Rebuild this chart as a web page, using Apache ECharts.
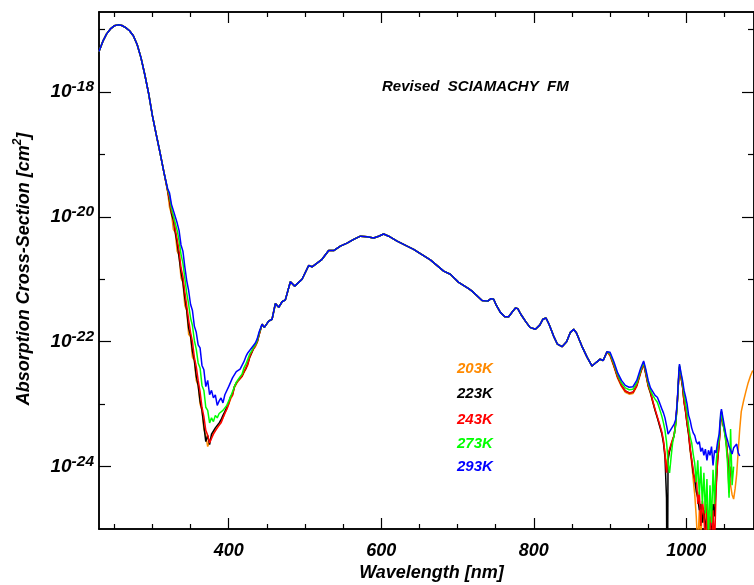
<!DOCTYPE html>
<html><head><meta charset="utf-8">
<script src="https://cdn.jsdelivr.net/npm/echarts@6/dist/echarts.min.js"></script>
<style>html,body{margin:0;padding:0;background:#fff}#c{width:754px;height:585px}</style>
</head><body><div id="c"></div>
<script>
// ---------- DATA (log10 of cross-section, cm^2) ----------
const seriesNames = ['203K', '223K', '243K', '273K', '293K'];
const titleText = 'Revised  SCIAMACHY  FM';

// Hartley band (all temperatures coincide)
const uvWl  = [230,235,240,245,250,255,260,265,270,275,280,285,290,295,300,305,310,315];
const uvLog = [-17.35,-17.19,-17.07,-16.99,-16.94,-16.925,-16.935,-16.97,-17.02,-17.10,-17.24,-17.45,-17.72,-18.02,-18.38,-18.68,-18.97,-19.28];

// Huggins band / minimum (temperature dependent)
const hugWl = [320,322.5,325,327.5,330,332.5,335,337.5,340,342.5,345,347.5,350,352.5,355,357.5,360,362.5,365,367.5,370,372.5,375,377.5,380,382.5,385,387.5,390,392.5,395,397.5,400,402.5,405,407.5,410,412.5,415,417.5,420,422.5,425,427.5,430,432.5,435,437.5,440];
const hug293 = [-19.55,-19.62,-19.80,-19.78,-20.00,-20.10,-20.22,-20.45,-20.55,-20.80,-21.02,-21.18,-21.40,-21.50,-21.75,-21.85,-22.05,-22.10,-22.38,-22.45,-22.72,-22.62,-22.85,-22.78,-22.90,-22.85,-23.02,-22.95,-22.90,-22.98,-22.85,-22.88,-22.72,-22.75,-22.58,-22.60,-22.48,-22.50,-22.44,-22.45,-22.32,-22.24,-22.18,-22.14,-22.12,-22.06,-22.02,-21.95,-21.84];
const hug273 = [-19.56,-19.66,-19.86,-19.88,-20.10,-20.22,-20.38,-20.60,-20.74,-20.98,-21.22,-21.40,-21.62,-21.74,-21.98,-22.12,-22.34,-22.42,-22.70,-22.78,-23.05,-23.10,-23.30,-23.22,-23.28,-23.18,-23.22,-23.15,-23.16,-23.10,-23.08,-23.02,-22.95,-22.88,-22.80,-22.72,-22.65,-22.62,-22.56,-22.52,-22.42,-22.36,-22.28,-22.20,-22.15,-22.09,-22.05,-21.98,-21.86];
const hug243 = [-19.58,-19.72,-19.92,-20.00,-20.20,-20.36,-20.55,-20.82,-20.95,-21.20,-21.42,-21.65,-21.85,-22.00,-22.25,-22.40,-22.62,-22.80,-23.05,-23.20,-23.42,-23.50,-23.62,-23.55,-23.48,-23.45,-23.38,-23.35,-23.30,-23.22,-23.15,-23.08,-23.00,-22.90,-22.86,-22.72,-22.66,-22.62,-22.60,-22.55,-22.48,-22.42,-22.36,-22.24,-22.17,-22.11,-22.07,-22.00,-21.88];
const hug223 = [-19.58,-19.75,-19.95,-20.05,-20.25,-20.42,-20.65,-20.88,-21.05,-21.30,-21.50,-21.78,-21.90,-22.15,-22.30,-22.55,-22.70,-22.95,-23.10,-23.35,-23.60,-23.50,-23.65,-23.48,-23.45,-23.38,-23.35,-23.30,-23.25,-23.18,-23.12,-23.05,-22.98,-22.88,-22.84,-22.72,-22.66,-22.62,-22.60,-22.55,-22.48,-22.43,-22.35,-22.25,-22.18,-22.11,-22.08,-22.00,-21.88];
const hug203 = [-19.60,-19.85,-19.95,-20.20,-20.25,-20.55,-20.62,-20.98,-21.05,-21.42,-21.50,-21.88,-21.92,-22.25,-22.30,-22.62,-22.70,-23.00,-23.10,-23.40,-23.50,-23.68,-23.60,-23.52,-23.45,-23.42,-23.38,-23.32,-23.28,-23.22,-23.14,-23.08,-23.00,-22.92,-22.86,-22.74,-22.68,-22.63,-22.62,-22.56,-22.50,-22.44,-22.38,-22.26,-22.19,-22.12,-22.08,-22.01,-21.89];

// Chappuis band (all temperatures nearly coincide)
const visWl  = [443.8,446.8,452.4,456.9,461.2,465.6,470.0,474.3,480.9,486.5,491.8,496.2,504.9,509.3,515.9,522.4,531.1,537.7,546.4,555.2,563.9,572.7,581.4,590.1,596.7,603.2,609.8,620.8,633.9,642.5,651.3,664.4,681.9,690.6,701.5,714.6,719.1,732.2,739.5,744,747.4,751,756.2,762,767.1,772,776,779,783,789,795,802.1,808,812,816,820,826,831,837,843,848,852.3,856,863,870,876.4,882,887,891,896];
const visLog = [-21.72,-21.77,-21.67,-21.64,-21.39,-21.45,-21.36,-21.33,-21.04,-21.11,-21.05,-21.00,-20.78,-20.80,-20.74,-20.68,-20.54,-20.54,-20.47,-20.42,-20.36,-20.31,-20.32,-20.34,-20.31,-20.275,-20.31,-20.39,-20.47,-20.52,-20.59,-20.69,-20.87,-20.92,-21.05,-21.15,-21.19,-21.34,-21.35,-21.31,-21.32,-21.42,-21.53,-21.60,-21.60,-21.52,-21.46,-21.47,-21.56,-21.67,-21.77,-21.80,-21.73,-21.64,-21.62,-21.72,-21.91,-22.04,-22.08,-22.00,-21.85,-21.80,-21.86,-22.07,-22.25,-22.39,-22.33,-22.28,-22.30,-22.16];

// Near-IR (temperature dependent, noisy)
const nirWl = [900,905,910,915,920,925,930,935,940,944,947,950,953,956,959,962,965,968,970,972,974,975,976,978,980,982,984,986,988,990,991,993,995,997,999,1001,1003,1005,1007,1009,1011,1013,1015,1017,1019,1021,1023,1025,1027,1029,1031,1033,1035,1037,1039,1041,1043,1045,1046,1048,1050,1052,1054,1056,1058,1060,1062,1064,1066,1068,1070,1072,1075,1078,1081,1084,1087];
const nir293 = [-22.17,-22.32,-22.50,-22.62,-22.70,-22.73,-22.72,-22.62,-22.43,
 -22.31,-22.45,-22.62,-22.74,-22.80,-22.86,-22.89,-22.98,-23.08,
 -23.14,-23.22,-23.34,-23.40,-23.48,-23.44,-23.40,-23.38,-23.32,-23.25,-22.98,-22.52,
 -22.36,-22.50,-22.62,-22.78,-22.88,
 -23.00,-23.18,-23.26,-23.38,-23.46,-23.50,-23.60,-23.64,-23.60,-23.76,-23.70,-23.82,-23.72,-23.90,-23.74,-23.82,-23.68,-23.98,-23.74,-23.78,-23.60,-23.48,-23.15,
 -23.08,-23.22,-23.36,-23.50,-23.58,-23.68,-23.66,-23.80,-23.70,-23.72,-23.64,-23.78,-23.83,
 null,null,null,null,null,null];
const nir273 = [-22.19,-22.35,-22.53,-22.66,-22.74,-22.77,-22.76,-22.66,-22.46,
 -22.33,-22.48,-22.66,-22.78,-22.86,-22.92,-22.97,-23.08,-23.20,
 -23.30,-23.42,-23.60,-23.75,-23.95,-24.10,-23.85,-23.62,-23.50,-23.35,-23.02,-22.55,
 -22.38,-22.52,-22.66,-22.84,-22.98,
 -23.14,-23.35,-23.52,-23.62,-23.80,-23.95,-24.25,-23.90,-24.45,-24.00,-24.60,-24.10,-24.75,-24.20,-25.20,-24.30,-24.90,-24.05,-24.60,-23.95,-23.70,-23.55,-23.20,
 -23.12,-23.30,-23.45,-23.62,-23.95,-24.50,-23.40,-24.30,-24.00,null,null,null,null,
 null,null,null,null,null,null];
const nir243 = [-22.21,-22.38,-22.57,-22.70,-22.79,-22.82,-22.81,-22.70,-22.49,
 -22.35,-22.52,-22.70,-22.80,-22.95,-23.08,-23.20,-23.32,-23.45,
 -23.58,-23.80,-24.10,-23.95,-23.80,-23.72,-23.64,-23.56,-23.50,-23.30,-23.00,-22.58,
 -22.40,-22.56,-22.70,-22.95,-23.10,
 -23.30,-23.45,-23.70,-23.88,-24.05,-24.25,-24.10,-24.60,-24.40,-24.95,-24.55,-24.75,-25.40,-24.60,-25.10,-24.80,-25.40,-24.70,-25.30,-24.37,-23.90,-23.65,-23.25,
 -23.12,-23.30,-23.40,-23.55,-23.80,-24.42,-24.00,null,null,null,null,null,null,
 null,null,null,null,null,null];
const nir223 = [-22.21,-22.38,-22.57,-22.70,-22.79,-22.82,-22.81,-22.70,-22.49,
 -22.35,-22.52,-22.70,-22.82,-22.96,-23.10,-23.22,-23.35,-23.48,
 -23.62,-23.85,-24.50,-27.00,-23.90,-23.75,-23.66,-23.58,-23.50,-23.30,-23.00,-22.58,
 -22.40,-22.56,-22.72,-22.96,-23.12,
 -23.32,-23.48,-23.72,-23.90,-24.10,-24.20,-24.40,-24.50,-24.70,-24.60,-24.90,-24.70,-25.00,-24.80,-25.20,-24.90,-25.10,-24.60,-24.80,-24.30,-23.90,-23.62,-23.26,
 -23.13,-23.31,-23.42,-23.57,-23.82,-24.20,-24.10,null,null,null,null,null,null,
 null,null,null,null,null,null];
const nir203 = [-22.23,-22.40,-22.59,-22.72,-22.81,-22.84,-22.83,-22.72,-22.51,
 -22.36,-22.54,-22.72,-22.83,-22.97,-23.10,-23.22,-23.34,-23.48,
 -23.60,-23.78,-24.00,-23.92,-23.85,-23.75,-23.66,-23.58,-23.50,-23.32,-23.02,-22.60,
 -22.42,-22.58,-22.72,-22.98,-23.12,
 -23.32,-23.50,-23.75,-23.95,-24.20,-24.45,-24.80,-25.30,-24.70,-25.20,-24.60,-24.90,-24.50,-25.30,-24.70,-25.00,-24.60,-24.90,-24.50,-24.20,-23.85,-23.62,-23.28,
 -23.15,-23.32,-23.44,-23.60,-23.85,-24.10,-24.30,-24.45,-24.52,-24.35,-24.12,-23.75,-23.40,
 -23.12,-22.95,-22.80,-22.66,-22.55,-22.46];

// Axis ticks / labels
const xLabelValues = [400, 600, 800, 1000];
const xMinorTicks  = [250,300,350,450,500,550,650,700,750,850,900,950,1050];
const yLabelExps   = [-24, -22, -20, -18];
const yMinorExps   = [-23, -21, -19, -17];
const xAxisTitle = 'Wavelength [nm]';
const yAxisTitle = ['Absorption Cross-Section [cm', '2', ']'];

// ---------- BUILD ----------
function toPts(wl, lg) {
  return wl.map((w, i) => [w, lg[i] == null ? '-' : Math.pow(10, lg[i])]);
}
function build(hug, nir) {
  return [].concat(toPts(uvWl, uvLog), toPts(hugWl, hug), toPts(visWl, visLog), toPts(nirWl, nir));
}
const seriesData = [build(hug203, nir203), build(hug223, nir223), build(hug243, nir243), build(hug273, nir273), build(hug293, nir293)];
const colors = ['#ff8a00', '#000000', '#ff0000', '#00ff00', '#0000ff'];

const FF = '"Liberation Sans", Arial, Helvetica, sans-serif';
const pw = v => Math.pow(10, v);
const XMIN = 230, XMAX = 1088.7, YMIN = 1e-25, YMAX = 1.91e-17;
const axisLineStyle = { color: '#000', width: 1.5 };
const tickStyle = { color: '#000', width: 1.2 };

function xAx(pos, ticks, len, labels) {
  return {
    type: 'value', position: pos, min: XMIN, max: XMAX,
    axisLine: { show: true, onZero: false, lineStyle: axisLineStyle },
    axisTick: { show: true, inside: true, length: len, customValues: ticks, lineStyle: tickStyle },
    axisLabel: labels ? { show: true, customValues: ticks, margin: 13, formatter: v => String(v),
      color: '#000', fontSize: 18, fontWeight: 'bold', fontStyle: 'italic', fontFamily: FF } : { show: false },
    splitLine: { show: false }
  };
}
function yAx(pos, exps, len, labels) {
  return {
    type: 'log', logBase: 10, position: pos, min: YMIN, max: YMAX,
    axisLine: { show: true, onZero: false, lineStyle: axisLineStyle },
    axisTick: { show: true, inside: true, length: len, customValues: exps.map(pw), lineStyle: tickStyle },
    axisLabel: labels ? {
      show: true, customValues: exps.map(pw), margin: 5,
      formatter: v => '{b|10}{s|' + Math.round(Math.log10(v)) + '}',
      rich: {
        b: { fontSize: 19, fontWeight: 'bold', fontStyle: 'italic', fontFamily: FF, color: '#000', lineHeight: 26 },
        s: { fontSize: 15.5, fontWeight: 'bold', fontStyle: 'italic', fontFamily: FF, color: '#000', lineHeight: 13, verticalAlign: 'top' }
      }
    } : { show: false },
    splitLine: { show: false }
  };
}

const legendY = [368.5, 394, 420, 443.5, 466.5];
const graphics = [
  { type: 'text', x: 382, y: 87, style: { text: titleText, fill: '#000', font: 'italic bold 15px ' + FF, align: 'left', verticalAlign: 'middle', textAlign: 'left', textVerticalAlign: 'middle' } },
  { type: 'text', x: 431.5, y: 573, style: { text: xAxisTitle, fill: '#000', font: 'italic bold 18px ' + FF, align: 'center', verticalAlign: 'middle', textAlign: 'center', textVerticalAlign: 'middle' } },
  { type: 'text', x: 24, y: 269, rotation: Math.PI / 2, style: {
      text: '{a|' + yAxisTitle[0] + '}{s|' + yAxisTitle[1] + '}{a|' + yAxisTitle[2] + '}',
      align: 'center', verticalAlign: 'middle', textAlign: 'center', textVerticalAlign: 'middle',
      rich: {
        a: { fontSize: 18, fontWeight: 'bold', fontStyle: 'italic', fontFamily: FF, fill: '#000', color: '#000', lineHeight: 24 },
        s: { fontSize: 12, fontWeight: 'bold', fontStyle: 'italic', fontFamily: FF, fill: '#000', color: '#000', lineHeight: 12, verticalAlign: 'top' }
      } } }
];
seriesNames.forEach((n, i) => {
  graphics.push({ type: 'text', x: 457, y: legendY[i], style: { text: n, fill: colors[i], font: 'italic bold 15px ' + FF, align: 'left', verticalAlign: 'middle', textAlign: 'left', textVerticalAlign: 'middle' } });
});

const chart = echarts.init(document.getElementById('c'), null, { renderer: 'canvas' });
chart.setOption({
  animation: false,
  backgroundColor: '#fff',
  grid: { left: 99, top: 12, right: 0, bottom: 56, containLabel: false, outerBoundsMode: 'none' },
  xAxis: [
    xAx('bottom', xLabelValues, 11, true),
    xAx('bottom', xMinorTicks, 5, false),
    xAx('top', xLabelValues, 11, false),
    xAx('top', xMinorTicks, 5, false)
  ],
  yAxis: [
    yAx('left', yLabelExps, 12, true),
    yAx('left', yMinorExps, 6, false),
    yAx('right', yLabelExps, 12, false),
    yAx('right', yMinorExps, 6, false)
  ],
  series: seriesNames.map((n, i) => ({
    name: n, type: 'line', xAxisIndex: 0, yAxisIndex: 0,
    data: seriesData[i], symbol: 'none', showSymbol: false, clip: true,
    connectNulls: false, silent: true,
    lineStyle: { color: colors[i], width: 1.5 }, itemStyle: { color: colors[i] }
  })),
  graphic: graphics
});
</script></body></html>
